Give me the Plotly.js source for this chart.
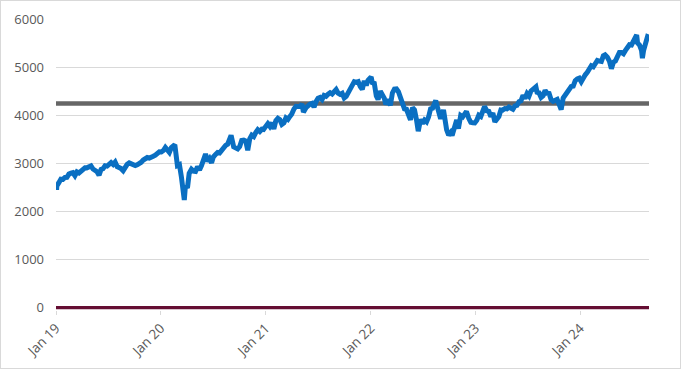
<!DOCTYPE html>
<html>
<head>
<meta charset="utf-8">
<script src="https://cdn.plot.ly/plotly-3.0.1.min.js"></script>
<style>
html,body{margin:0;padding:0;background:#fff;}
#wrap{width:681px;height:369px;box-sizing:border-box;border:1px solid #d9d9d9;background:#fff;}
#chart{width:679px;height:367px;}
</style>
</head>
<body>
<div id="wrap"><div id="chart"></div></div>
<script>
// Weekly index levels (approximate closes)
const dates = [
"2019-01-02","2019-01-03","2019-01-04","2019-01-11","2019-01-18","2019-01-25","2019-02-01","2019-02-08","2019-02-15","2019-02-22","2019-03-01","2019-03-08","2019-03-15","2019-03-22","2019-03-29","2019-04-05","2019-04-12","2019-04-18","2019-04-26","2019-05-03","2019-05-10","2019-05-17","2019-05-24","2019-05-31","2019-06-07","2019-06-14","2019-06-21","2019-06-28","2019-07-05","2019-07-12","2019-07-19","2019-07-26","2019-08-02","2019-08-09","2019-08-16","2019-08-23","2019-08-30","2019-09-06","2019-09-13","2019-09-20","2019-09-27","2019-10-04","2019-10-11","2019-10-18","2019-10-25","2019-11-01","2019-11-08","2019-11-15","2019-11-22","2019-11-29","2019-12-06","2019-12-13","2019-12-20","2019-12-27",
"2020-01-03","2020-01-10","2020-01-17","2020-01-24","2020-01-31","2020-02-07","2020-02-14","2020-02-19","2020-02-28","2020-03-06","2020-03-13","2020-03-20","2020-03-23","2020-03-27","2020-04-03","2020-04-09","2020-04-17","2020-04-24","2020-05-01","2020-05-08","2020-05-15","2020-05-22","2020-05-29","2020-06-05","2020-06-12","2020-06-19","2020-06-26","2020-07-02","2020-07-10","2020-07-17","2020-07-24","2020-07-31","2020-08-07","2020-08-14","2020-08-21","2020-08-28","2020-09-02","2020-09-11","2020-09-18","2020-09-25","2020-10-02","2020-10-09","2020-10-16","2020-10-23","2020-10-30","2020-11-06","2020-11-13","2020-11-20","2020-11-27","2020-12-04","2020-12-11","2020-12-18","2020-12-24","2020-12-31",
"2021-01-08","2021-01-15","2021-01-22","2021-01-29","2021-02-05","2021-02-12","2021-02-19","2021-02-26","2021-03-05","2021-03-12","2021-03-19","2021-03-26","2021-04-01","2021-04-09","2021-04-16","2021-04-23","2021-04-30","2021-05-07","2021-05-12","2021-05-21","2021-05-28","2021-06-04","2021-06-11","2021-06-18","2021-06-25","2021-07-02","2021-07-09","2021-07-16","2021-07-23","2021-07-30","2021-08-06","2021-08-13","2021-08-20","2021-08-27","2021-09-03","2021-09-10","2021-09-17","2021-09-24","2021-10-01","2021-10-08","2021-10-15","2021-10-22","2021-10-29","2021-11-05","2021-11-12","2021-11-19","2021-11-26","2021-12-03","2021-12-10","2021-12-17","2021-12-23","2021-12-31",
"2022-01-03","2022-01-07","2022-01-14","2022-01-21","2022-01-27","2022-02-04","2022-02-11","2022-02-18","2022-02-23","2022-03-04","2022-03-11","2022-03-18","2022-03-25","2022-04-01","2022-04-08","2022-04-14","2022-04-22","2022-04-29","2022-05-06","2022-05-13","2022-05-20","2022-05-27","2022-06-03","2022-06-10","2022-06-16","2022-06-24","2022-07-01","2022-07-08","2022-07-15","2022-07-22","2022-07-29","2022-08-05","2022-08-16","2022-08-19","2022-08-26","2022-09-02","2022-09-12","2022-09-16","2022-09-23","2022-09-30","2022-10-07","2022-10-12","2022-10-21","2022-10-28","2022-11-03","2022-11-11","2022-11-18","2022-11-25","2022-12-01","2022-12-09","2022-12-16","2022-12-23","2022-12-30",
"2023-01-06","2023-01-13","2023-01-20","2023-01-27","2023-02-02","2023-02-10","2023-02-17","2023-02-24","2023-03-03","2023-03-10","2023-03-17","2023-03-24","2023-03-31","2023-04-06","2023-04-14","2023-04-21","2023-04-28","2023-05-05","2023-05-12","2023-05-19","2023-05-26","2023-06-02","2023-06-09","2023-06-16","2023-06-23","2023-06-30","2023-07-07","2023-07-14","2023-07-21","2023-07-31","2023-08-04","2023-08-11","2023-08-18","2023-08-25","2023-09-01","2023-09-08","2023-09-15","2023-09-22","2023-09-29","2023-10-06","2023-10-13","2023-10-20","2023-10-27","2023-11-03","2023-11-10","2023-11-17","2023-11-24","2023-12-01","2023-12-08","2023-12-15","2023-12-22","2023-12-29",
"2024-01-05","2024-01-12","2024-01-19","2024-01-26","2024-02-02","2024-02-09","2024-02-16","2024-02-23","2024-03-01","2024-03-08","2024-03-15","2024-03-22","2024-03-28","2024-04-05","2024-04-12","2024-04-19","2024-04-26","2024-05-03","2024-05-10","2024-05-17","2024-05-24","2024-05-31","2024-06-07","2024-06-14","2024-06-21","2024-06-28","2024-07-05","2024-07-12","2024-07-16","2024-07-19","2024-07-26","2024-08-02","2024-08-05","2024-08-09","2024-08-16","2024-08-23","2024-08-28"
];
const levels = [
2510,2448,2532,2596,2671,2665,2707,2708,2776,2793,2804,2743,2822,2800,2834,2893,2907,2905,2940,2946,2881,2860,2826,2752,2873,2887,2950,2942,2990,3014,2977,3026,2932,2919,2889,2847,2926,2979,3007,2992,2962,2952,2970,2986,3023,3067,3093,3120,3110,3141,3146,3169,3221,3240,
3235,3265,3330,3295,3226,3328,3380,3386,2954,2972,2711,2305,2237,2541,2489,2790,2875,2837,2831,2930,2864,2955,3044,3194,3041,3098,3009,3130,3185,3225,3216,3271,3351,3373,3397,3508,3580,3341,3319,3298,3348,3477,3484,3465,3270,3509,3585,3557,3638,3699,3663,3709,3703,3756,
3825,3768,3841,3714,3887,3934,3907,3811,3842,3943,3913,3975,4020,4129,4185,4180,4181,4233,4063,4156,4204,4230,4247,4166,4281,4352,4370,4327,4412,4395,4437,4468,4442,4509,4535,4459,4433,4455,4357,4391,4471,4545,4605,4697,4683,4698,4595,4538,4712,4621,4725,4766,
4796,4677,4663,4398,4327,4501,4419,4349,4226,4329,4204,4463,4543,4546,4488,4393,4272,4132,4123,4024,3901,4158,4109,3901,3667,3912,3825,3899,3863,3962,4130,4145,4305,4228,4058,3924,4110,3873,3693,3586,3640,3577,3752,3901,3720,3993,3965,4026,4077,3934,3852,3845,3840,
3895,3999,3973,4071,4180,4090,4079,3970,4045,3862,3917,3971,4109,4105,4138,4133,4169,4136,4124,4192,4205,4282,4299,4410,4348,4450,4399,4505,4536,4589,4478,4464,4370,4406,4516,4457,4450,4320,4288,4308,4327,4224,4117,4358,4415,4514,4559,4595,4604,4719,4755,4770,
4697,4784,4840,4891,4959,5027,5006,5089,5137,5124,5117,5234,5254,5204,5123,4967,5100,5128,5223,5303,5305,5278,5347,5432,5465,5460,5567,5615,5667,5505,5459,5346,5186,5344,5554,5635,5625
];
const refLevel = 4245;   // horizontal reference line
const zeroLevel = 0;
const yearTicks = ["2019-01-01","2020-01-01","2021-01-01","2022-01-01","2023-01-01","2024-01-01"];
const yearLabels = ["Jan 19","Jan 20","Jan 21","Jan 22","Jan 23","Jan 24"];
const yTicks = [0,1000,2000,3000,4000,5000,6000];

const xStart = "2019-01-01", xEnd = "2024-08-28";

const traces = [
  {x:[xStart,xEnd], y:[refLevel,refLevel], mode:"lines", line:{color:"#666666", width:4.5}, hoverinfo:"skip"},
  {x:[xStart,xEnd], y:[zeroLevel,zeroLevel], mode:"lines", line:{color:"#650e33", width:3.2}, hoverinfo:"skip"},
  {x:dates, y:levels, mode:"lines", line:{color:"#0a6fc2", width:5}, hoverinfo:"skip"}
];

const layout = {
  width:679, height:367,
  margin:{l:55, r:31, t:18, b:57.6},
  paper_bgcolor:"#ffffff", plot_bgcolor:"#ffffff",
  showlegend:false,
  font:{family:"Open Sans, sans-serif", size:13, color:"#595959"},
  xaxis:{
    type:"date", range:[xStart,xEnd],
    tickvals:yearTicks, ticktext:yearLabels, tickangle:-45,
    showgrid:false, zeroline:false, showline:false,
    ticks:"outside", ticklen:4, tickcolor:"#d9d9d9",
    tickfont:{family:"Open Sans, sans-serif", size:13.5, color:"#595959"}
  },
  yaxis:{
    range:[-50,6000], tickvals:yTicks,
    showgrid:true, gridcolor:"#d9d9d9", gridwidth:1,
    zeroline:false, showline:false, ticks:"",
    ticklabelstandoff:11,
    tickfont:{family:"Open Sans, sans-serif", size:13, color:"#595959"}
  }
};
Plotly.newPlot("chart", traces, layout, {staticPlot:true, displayModeBar:false});
</script>
</body>
</html>
